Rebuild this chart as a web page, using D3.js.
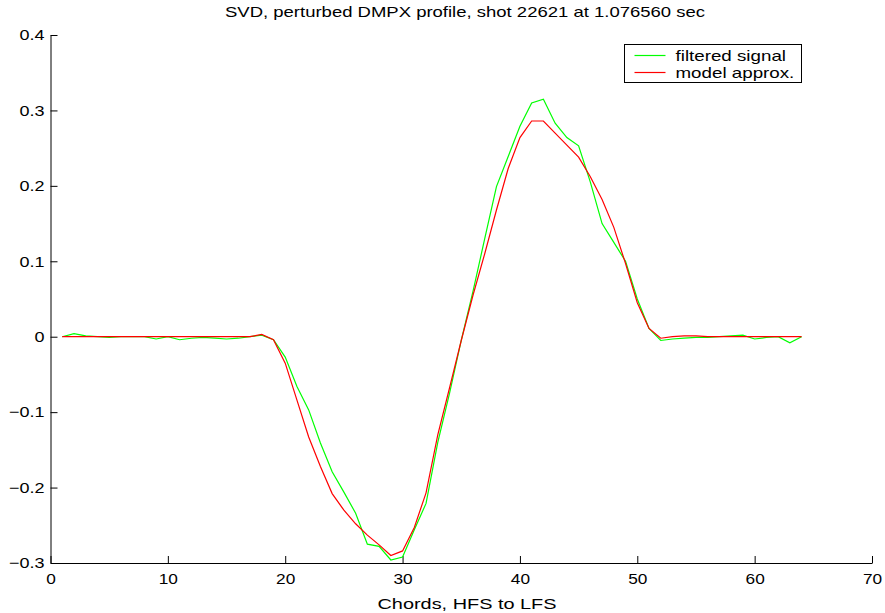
<!DOCTYPE html>
<html>
<head>
<meta charset="utf-8">
<script src="https://cdn.jsdelivr.net/npm/d3@7"></script>
<style>
  body { margin: 0; background: #fff; }
  svg text { font-family: "Liberation Sans", Arial, Helvetica, sans-serif; fill: #000; }
</style>
</head>
<body>
<div id="chart"></div>
<script>
// chord numbers 1..64
var chords = d3.range(1, 65);

// filtered signal (green)
var filtered = [
  0, 0.004, 0.001, 0, -0.001, 0, 0, 0, -0.003, 0,
  -0.004, -0.002, -0.001, -0.002, -0.003, -0.002, 0, 0.002, -0.004, -0.027,
  -0.066, -0.097, -0.141, -0.179, -0.206, -0.234, -0.275, -0.278, -0.296, -0.292,
  -0.256, -0.221, -0.14, -0.075, -0.005, 0.06, 0.13, 0.199, 0.239, 0.279,
  0.31, 0.315, 0.283, 0.264, 0.253, 0.205, 0.15, 0.125, 0.1, 0.05,
  0.011, -0.005, -0.003, -0.002, -0.001, -0.001, 0, 0.001, 0.002, -0.003,
  -0.001, 0, -0.008, 0
];

// model approximation (red)
var model = [
  0, 0, 0, 0, 0, 0, 0, 0, 0, 0,
  0, 0, 0, 0, 0, 0, 0, 0.003, -0.004, -0.035,
  -0.084, -0.133, -0.172, -0.208, -0.23, -0.248, -0.263, -0.276, -0.29, -0.284,
  -0.253, -0.207, -0.13, -0.068, -0.005, 0.055, 0.11, 0.168, 0.223, 0.264,
  0.286, 0.286, 0.27, 0.254, 0.238, 0.212, 0.182, 0.145, 0.097, 0.045,
  0.011, -0.002, 0, 0.001, 0.001, 0, 0, 0, 0, 0,
  0, 0, 0, 0
];

var xTicks = [0, 10, 20, 30, 40, 50, 60, 70];
var yTicks = [-0.3, -0.2, -0.1, 0, 0.1, 0.2, 0.3, 0.4];

var svgWidth = 885;
var svgHeight = 613;
var margin = { top: 35, right: 13, bottom: 50, left: 50.5 };
var width = svgWidth - margin.left - margin.right;
var height = svgHeight - margin.top - margin.bottom;

// the original text is drawn wide, so stretch glyphs horizontally
function stretch(sel, factor) {
  sel.each(function() {
    var w = this.getComputedTextLength();
    d3.select(this)
      .attr("textLength", w * factor)
      .attr("lengthAdjust", "spacingAndGlyphs");
  });
}

var svg = d3.select("#chart")
  .append("svg")
  .attr("width", svgWidth)
  .attr("height", svgHeight);

var chartGroup = svg.append("g")
  .attr("transform", `translate(${margin.left}, ${margin.top})`);

var xScale = d3.scaleLinear().domain([0, 70]).range([0, width]);
var yScale = d3.scaleLinear().domain([-0.3, 0.4]).range([height, 0]);

// axes, ticks pointing inward like matlab
var bottomAxis = d3.axisBottom(xScale)
  .tickValues(xTicks)
  .tickSizeInner(-7)
  .tickSizeOuter(0)
  .tickPadding(10)
  .tickFormat(d3.format("d"));

var leftAxis = d3.axisLeft(yScale)
  .tickValues(yTicks)
  .tickSizeInner(-7)
  .tickSizeOuter(0)
  .tickPadding(13)
  .tickFormat(d => d === 0 ? "0" : d3.format(".1f")(d).replace("-", "\u2212"));

var xAxisG = chartGroup.append("g")
  .attr("transform", `translate(0, ${height})`)
  .call(bottomAxis);

var yAxisG = chartGroup.append("g")
  .call(leftAxis);

[xAxisG, yAxisG].forEach(function(g) {
  g.select(".domain").attr("stroke", "#000").attr("stroke-width", 1);
  g.selectAll(".tick line").attr("stroke", "#000");
  g.selectAll(".tick text").attr("font-size", 15).attr("fill", "#000")
    .style("font-family", "Liberation Sans, Arial, sans-serif");
});
yAxisG.selectAll(".tick text").attr("dx", "7px");
stretch(xAxisG.selectAll(".tick text"), 1.15);
stretch(yAxisG.selectAll(".tick text"), 1.2);

// lines
var line = d3.line()
  .x((d, i) => xScale(chords[i]))
  .y(d => yScale(d));

chartGroup.append("path")
  .datum(filtered)
  .attr("fill", "none")
  .attr("stroke", "#00ff00")
  .attr("stroke-width", 1.2)
  .attr("d", line);

chartGroup.append("path")
  .datum(model)
  .attr("fill", "none")
  .attr("stroke", "#ff0000")
  .attr("stroke-width", 1.2)
  .attr("d", line);

// title and axis label
svg.append("text")
  .attr("x", 465)
  .attr("y", 17)
  .attr("text-anchor", "middle")
  .attr("font-size", 15)
  .attr("textLength", 480)
  .attr("lengthAdjust", "spacingAndGlyphs")
  .text("SVD, perturbed DMPX profile, shot 22621 at 1.076560 sec");

svg.append("text")
  .attr("x", 467)
  .attr("y", 609)
  .attr("text-anchor", "middle")
  .attr("font-size", 15)
  .attr("textLength", 179)
  .attr("lengthAdjust", "spacingAndGlyphs")
  .text("Chords, HFS to LFS");

// legend
var legendNames = ["filtered signal", "model approx."];
var legendColors = ["#00ff00", "#ff0000"];

var legend = svg.append("g")
  .attr("transform", "translate(624.5, 44.5)");

legend.append("rect")
  .attr("width", 177)
  .attr("height", 38)
  .attr("fill", "#fff")
  .attr("stroke", "#000")
  .attr("stroke-width", 1);

legendNames.forEach(function(name, i) {
  legend.append("line")
    .attr("x1", 10).attr("x2", 41)
    .attr("y1", 11 + i * 17).attr("y2", 11 + i * 17)
    .attr("stroke", legendColors[i])
    .attr("stroke-width", 1.2);
  var t = legend.append("text")
    .attr("x", 51)
    .attr("y", 16 + i * 17)
    .attr("font-size", 15)
    .text(name);
  stretch(t, 1.25);
});
</script>
</body>
</html>
